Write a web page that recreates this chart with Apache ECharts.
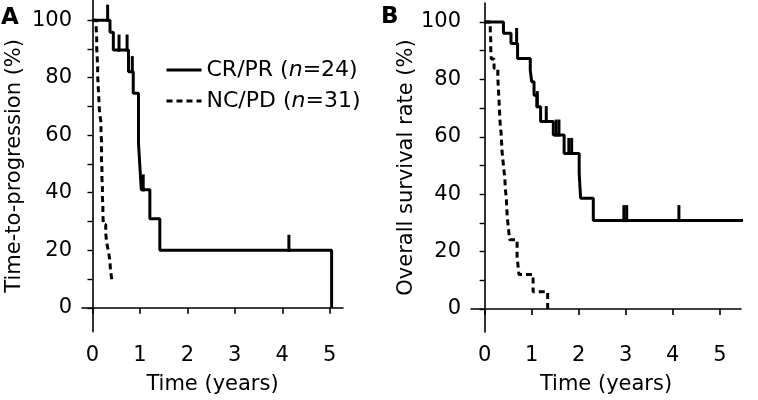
<!DOCTYPE html>
<html>
<head>
<meta charset="utf-8">
<script src="https://cdn.jsdelivr.net/npm/echarts@6/dist/echarts.min.js"></script>
<style>
html,body{margin:0;padding:0;background:#fff;}
#c{width:758px;height:400px;}
</style>
</head>
<body>
<div id="c"></div>
<script>
// ---- tick labels ----
const xTicks = [0, 1, 2, 3, 4, 5];
const yTicks = [0, 20, 40, 60, 80, 100];
const yTickMarks = [0, 10, 20, 30, 40, 50, 60, 70, 80, 90, 100];

// ---- series names ----
const nameCR = 'CR/PR (n=24)';
const nameNC = 'NC/PD (n=31)';

// ---- Panel A: time-to-progression ----
const tA_CR = [0, 0.37, 0.44, 0.76, 0.86, 0.97, 1.00, 1.03, 1.21, 1.42, 5.04];
const sA_CR = [100, 95.8, 89.6, 82.1, 74.6, 57.4, 49.0, 41.0, 31.0, 20.0, 0];
const tA_CR_cens = [0.32, 0.56, 0.73, 0.84, 1.07, 4.14];
const sA_CR_cens = [100, 89.6, 89.6, 82.1, 41.0, 20.0];

const tA_NC = [0, 0.08, 0.09, 0.09, 0.10, 0.11, 0.11, 0.12, 0.13, 0.14, 0.15, 0.18, 0.18, 0.19, 0.19, 0.19, 0.20, 0.20, 0.21, 0.21, 0.22, 0.22, 0.23, 0.28, 0.30, 0.34, 0.37, 0.38, 0.41, 0.47];
const sA_NC = [100, 96.8, 93.5, 90.3, 87.1, 83.9, 80.6, 77.4, 74.2, 71.0, 67.7, 64.5, 61.3, 58.1, 54.8, 51.6, 48.4, 45.2, 41.9, 38.7, 35.5, 32.3, 29.0, 25.8, 22.6, 19.4, 16.1, 12.9, 9.7, 9.7];

// ---- Panel B: overall survival ----
const tB_CR = [0, 0.40, 0.56, 0.70, 0.97, 1.00, 1.05, 1.11, 1.19, 1.46, 1.69, 2.01, 2.04, 2.31, 5.76];
const sB_CR = [100, 96.1, 92.5, 87.3, 83.2, 79.2, 74.5, 70.5, 65.3, 60.6, 54.2, 47.3, 38.6, 30.8, 30.8];
const tB_CR_cens = [0.68, 1.12, 1.31, 1.52, 1.58, 1.79, 1.85, 2.96, 3.02, 4.13];
const sB_CR_cens = [92.5, 70.5, 65.3, 60.6, 60.6, 54.2, 54.2, 30.8, 30.8, 30.8];

const tB_NC = [0, 0.12, 0.13, 0.13, 0.14, 0.20, 0.28, 0.29, 0.30, 0.31, 0.32, 0.33, 0.35, 0.36, 0.37, 0.39, 0.41, 0.43, 0.44, 0.46, 0.47, 0.48, 0.50, 0.52, 0.53, 0.69, 0.73, 1.03, 1.34];
const sB_NC = [100, 96.8, 93.5, 90.3, 87.1, 83.9, 80.6, 77.4, 74.2, 71.0, 67.7, 64.5, 61.3, 58.1, 54.8, 51.6, 48.4, 45.2, 41.9, 38.7, 35.5, 32.3, 29.0, 25.8, 24.1, 18.0, 12.0, 6.0, 0];

const zip = (a, b) => a.map((v, i) => [v, b[i]]);

const FONT = 'DejaVu Sans';
const BLACK = '#000';

function xAxis(gridIndex, min, max) {
  return {
    type: 'value', gridIndex, min, max,
    name: 'Time (years)', nameLocation: 'middle', nameGap: 42,
    nameTextStyle: { fontFamily: FONT, fontSize: 21, color: BLACK },
    axisLine: { lineStyle: { color: BLACK, width: 1.6 } },
    axisTick: { length: 6, lineStyle: { color: BLACK, width: 1.6 }, customValues: xTicks },
    axisLabel: { fontFamily: FONT, fontSize: 21, color: BLACK, margin: 13, customValues: xTicks },
    splitLine: { show: false }
  };
}
function yAxis(gridIndex, min, max, name, gap) {
  return {
    type: 'value', gridIndex, min, max,
    name, nameLocation: 'middle', nameGap: gap,
    nameTextStyle: { fontFamily: FONT, fontSize: 21, color: BLACK },
    axisLine: { show: true, lineStyle: { color: BLACK, width: 1.6 } },
    axisTick: { show: true, length: 5, lineStyle: { color: BLACK, width: 1.4 }, customValues: yTickMarks },
    axisLabel: { fontFamily: FONT, fontSize: 21, color: BLACK, margin: 10, customValues: yTicks },
    splitLine: { show: false }
  };
}
function curve(name, idx, data, dashed, clip) {
  return {
    type: 'line', name, xAxisIndex: idx, yAxisIndex: idx, data,
    step: 'end', symbol: 'none', showSymbol: false, clip: clip,
    lineStyle: { color: BLACK, width: 3, type: dashed ? [6, 4] : 'solid' },
    itemStyle: { color: BLACK },
    emphasis: { disabled: true }
  };
}
function censor(idx, data) {
  return {
    type: 'scatter', name: 'censor' + idx, xAxisIndex: idx, yAxisIndex: idx, data,
    symbol: 'rect', symbolSize: [3, 17], symbolOffset: [0, -7],
    itemStyle: { color: BLACK, opacity: 1 }, clip: false,
    emphasis: { disabled: true }
  };
}

const chart = echarts.init(document.getElementById('c'));
chart.setOption({
  animation: false,
  backgroundColor: '#fff',
  textStyle: { fontFamily: FONT },
  grid: [
    { left: 82, top: 0, width: 261, height: 331.7 },
    { left: 471, top: 3, width: 270, height: 329 }
  ],
  xAxis: [xAxis(0, -0.22, 5.28), xAxis(1, -0.29, 5.45)],
  yAxis: [
    yAxis(0, -8.3, 107, 'Time-to-progression (%)', 57),
    yAxis(1, -8, 106.6, 'Overall survival rate (%)', 53)
  ],
  legend: {
    data: [nameCR, nameNC],
    orient: 'vertical', left: 160, top: 53,
    itemWidth: 35, itemHeight: 14, itemGap: 7,
    itemStyle: { opacity: 0, borderWidth: 0 },
    lineStyle: { width: 3, color: BLACK },
    formatter: n => n.replace('(n=', '({i|n}='),
    textStyle: {
      fontFamily: FONT, fontSize: 22, color: BLACK, lineHeight: 24,
      rich: { i: { fontFamily: FONT, fontSize: 22, fontStyle: 'italic', color: BLACK } }
    },
    selectedMode: false
  },
  graphic: [
    { type: 'text', left: 1, top: 7, style: { text: 'A', font: 'bold 23px "DejaVu Sans"', fill: BLACK } },
    { type: 'text', left: 381, top: 6, style: { text: 'B', font: 'bold 23px "DejaVu Sans"', fill: BLACK } }
  ],
  series: [
    curve(nameNC, 0, zip(tA_NC, sA_NC), true, true),
    curve(nameCR, 0, zip(tA_CR, sA_CR), false, true),
    censor(0, zip(tA_CR_cens, sA_CR_cens)),
    curve(nameNC, 1, zip(tB_NC, sB_NC), true, true),
    curve(nameCR, 1, zip(tB_CR, sB_CR), false, false),
    censor(1, zip(tB_CR_cens, sB_CR_cens))
  ]
});
</script>
</body>
</html>
